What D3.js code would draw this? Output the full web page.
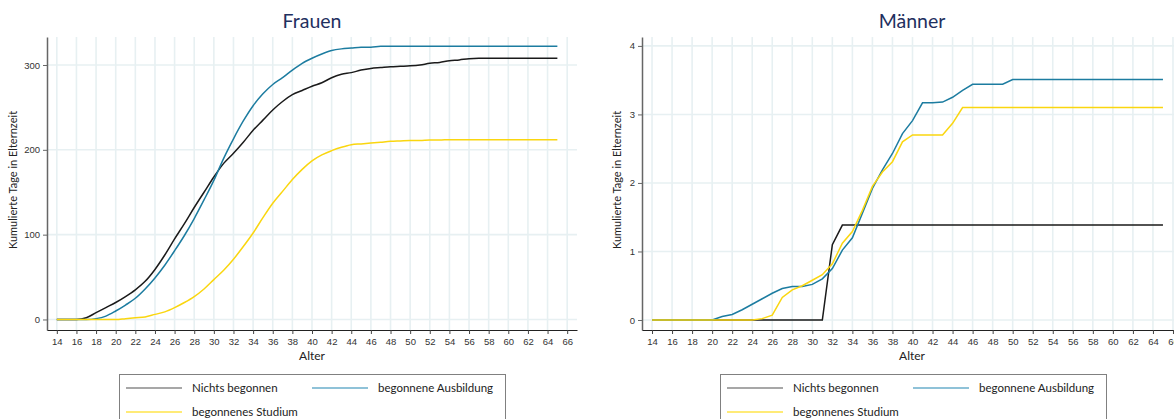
<!DOCTYPE html>
<html lang="de">
<head>
<meta charset="UTF-8">
<title>Kumulierte Tage in Elternzeit</title>
<script src="https://d3js.org/d3.v7.min.js"></script>
<style>
  body { margin: 0; background: #fff; }
  svg { display: block; font-family: Lato, "Open Sans", sans-serif; }
  .grid line { stroke: #e7f0f2; stroke-width: 1.6px; }
  .tick text { fill: #333; font-size: 9.5px; }
  .legend text { font-size: 11.5px; fill: #222; }
</style>
</head>
<body>
<div id="chart"></div>
<script>
// Alter 14..65
const ages = d3.range(14, 66);
const xTicks = d3.range(14, 67, 2);
const seriesNames = ["Nichts begonnen", "begonnene Ausbildung", "begonnenes Studium"];

// Frauen
const frauenNichts = [0,0,0,2,8,14,20,27,35,45,59,76,95,113,132,150,168,184,196,209,223,235,247,257,265,270,275,279,285,289,291,294,296,297,298,298.5,299,300,302,303,305,306,307.5,308,308,308,308,308,308,308,308,308];
const frauenAusbildung = [0,0,0,0,1,4,10,17,25,36,49,64,81,99,119,141,164,190,213,234,252,266,277,285,294,302,308,313,317,319,320,321,321,322,322,322,322,322,322,322,322,322,322,322,322,322,322,322,322,322,322,322];
const frauenStudium = [0,0,0,0,0,0,0,1,2,3,6,9,14,20,27,36,47,58,71,86,102,120,137,151,165,177,187,194,199,203,206,207,208,209,210,210.5,211,211,211.5,211.5,212,212,212,212,212,212,212,212,212,212,212,212];
const frauenYTicks = [0, 100, 200, 300];

// Männer
const maennerNichts = [0,0,0,0,0,0,0,0,0,0,0,0,0,0,0,0,0,0,1.1,1.385,1.385,1.385,1.385,1.385,1.385,1.385,1.385,1.385,1.385,1.385,1.385,1.385,1.385,1.385,1.385,1.385,1.385,1.385,1.385,1.385,1.385,1.385,1.385,1.385,1.385,1.385,1.385,1.385,1.385,1.385,1.385,1.385];
const maennerAusbildung = [0,0,0,0,0,0,0,0.05,0.08,0.15,0.23,0.31,0.39,0.46,0.49,0.49,0.52,0.60,0.75,1.02,1.20,1.56,1.92,2.19,2.43,2.72,2.91,3.17,3.17,3.18,3.25,3.35,3.44,3.44,3.44,3.44,3.51,3.51,3.51,3.51,3.51,3.51,3.51,3.51,3.51,3.51,3.51,3.51,3.51,3.51,3.51,3.51];
const maennerStudium = [0,0,0,0,0,0,0,0,0,0,0,0.02,0.07,0.33,0.44,0.50,0.58,0.66,0.82,1.12,1.29,1.60,1.95,2.16,2.31,2.60,2.70,2.70,2.70,2.70,2.87,3.10,3.10,3.10,3.10,3.10,3.10,3.10,3.10,3.10,3.10,3.10,3.10,3.10,3.10,3.10,3.10,3.10,3.10,3.10,3.10,3.10];
const maennerYTicks = [0, 1, 2, 3, 4];

const lineColors = ["#1a1a1a", "#1c7ca0", "#fad60f"];
const legendColors = ["#8a8a8a", "#6aaecb", "#ffe44a"];

const svg = d3.select("#chart").append("svg")
  .attr("width", 1174).attr("height", 419);

function panel(opts) {
  const { title, xRange, yDomain, yTicks, series, curve, titleX, labelX, legendX } = opts;
  const top = 37, bottom = 330;
  const x = d3.scaleLinear().domain([13, 67]).range(xRange);
  const y = d3.scaleLinear().domain(yDomain).range([bottom, top]);
  const g = svg.append("g");

  // Gitter
  const grid = g.append("g").attr("class", "grid");
  grid.selectAll(".v").data(xTicks).enter().append("line")
    .attr("x1", d => x(d)).attr("x2", d => x(d))
    .attr("y1", top).attr("y2", bottom);
  grid.selectAll(".h").data(yTicks).enter().append("line")
    .attr("x1", xRange[0]).attr("x2", xRange[1])
    .attr("y1", d => y(d)).attr("y2", d => y(d));

  // Achsen
  const yAxis = g.append("g").attr("transform", `translate(${xRange[0]},0)`)
    .call(d3.axisLeft(y).tickValues(yTicks).tickFormat(d3.format("d"))
      .tickSize(4).tickPadding(3).tickSizeOuter(0));
  yAxis.select(".domain").attr("stroke", "#666").attr("stroke-width", 1.5);
  yAxis.selectAll(".tick line").attr("stroke", "#666");

  const xAxis = g.append("g").attr("transform", `translate(0,${bottom})`)
    .call(d3.axisBottom(x).tickValues(xTicks).tickSize(4).tickPadding(4).tickSizeOuter(0));
  xAxis.select(".domain").attr("stroke", "#222").attr("stroke-width", 1.2);
  xAxis.selectAll(".tick line").attr("stroke", "#444");

  // Linien
  const line = d3.line().x((d, i) => x(ages[i])).y(d => y(d)).curve(curve);
  series.forEach((s, k) => {
    g.append("path").datum(s)
      .attr("fill", "none")
      .attr("stroke", lineColors[k])
      .attr("stroke-width", 1.5)
      .attr("d", line);
  });

  // Titel und Beschriftungen
  g.append("text").attr("x", titleX).attr("y", 28)
    .attr("text-anchor", "middle").attr("font-size", 19.5).attr("fill", "#1f3060")
    .text(title);
  g.append("text").attr("x", titleX).attr("y", 360)
    .attr("text-anchor", "middle").attr("font-size", 12).attr("fill", "#222")
    .text("Alter");
  g.append("text")
    .attr("transform", `translate(${labelX},180) rotate(-90)`)
    .attr("text-anchor", "middle").attr("font-size", 11).attr("fill", "#222")
    .attr("dy", "0.35em")
    .text("Kumulierte Tage in Elternzeit");

  // Legende
  const lg = g.append("g").attr("class", "legend").attr("transform", `translate(${legendX},374)`);
  lg.append("rect").attr("x", 0.5).attr("y", 0.5).attr("width", 386).attr("height", 60)
    .attr("fill", "#fff").attr("stroke", "#808080").attr("stroke-width", 1);
  const pos = [[7, 14], [193, 14], [7, 38]];
  seriesNames.forEach((name, k) => {
    const [lx, ly] = pos[k];
    lg.append("line").attr("x1", lx).attr("x2", lx + 56).attr("y1", ly).attr("y2", ly)
      .attr("stroke", legendColors[k]).attr("stroke-width", 1.5);
    lg.append("text").attr("x", lx + 66).attr("y", ly).attr("dy", "0.35em").text(name);
  });
}

panel({
  title: "Frauen", xRange: [47, 577], yDomain: [-12.4, 333], yTicks: frauenYTicks,
  series: [frauenNichts, frauenAusbildung, frauenStudium], curve: d3.curveMonotoneX,
  titleX: 312, labelX: 13, legendX: 119
});
panel({
  title: "Männer", xRange: [642, 1183], yDomain: [-0.146, 4.13], yTicks: maennerYTicks,
  series: [maennerNichts, maennerAusbildung, maennerStudium], curve: d3.curveLinear,
  titleX: 912, labelX: 617, legendX: 720
});
</script>
</body>
</html>
